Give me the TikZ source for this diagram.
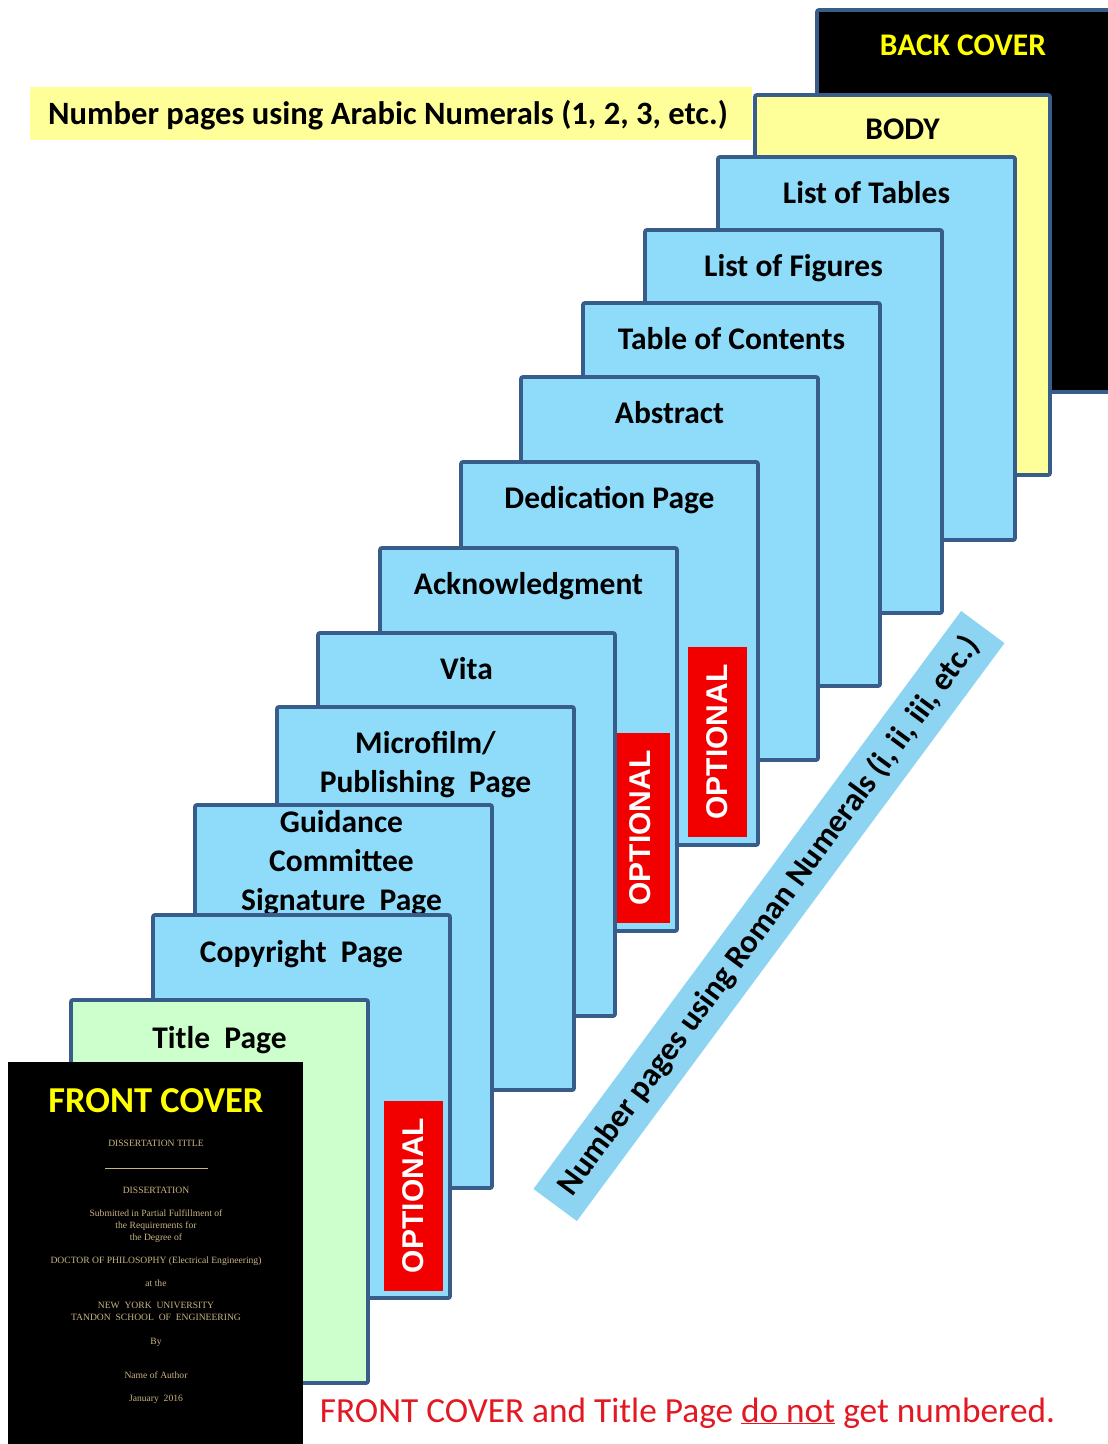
\documentclass[tikz,border=0pt]{standalone}
\usepackage{fontspec}
\setmainfont{Carlito}
\newfontfamily\arialfont{Liberation Sans}
\newfontfamily\timesfont{Liberation Serif}
\usetikzlibrary{calc}
\definecolor{pageblue}{RGB}{143,220,250}
\definecolor{edgeblue}{RGB}{56,93,138}
\definecolor{bodyyellow}{RGB}{255,255,153}
\definecolor{titlegreen}{RGB}{204,255,204}
\definecolor{barblue}{RGB}{141,212,242}
\definecolor{optred}{RGB}{242,0,0}
\definecolor{notered}{RGB}{226,24,34}
\definecolor{covergold}{RGB}{200,180,130}
\definecolor{coveryellow}{RGB}{255,255,0}
\begin{document}
\begin{tikzpicture}[x=1pt,y=-1pt,
  pagebox/.style={draw=edgeblue, line width=3.8pt, rounded corners=2pt, anchor=north west,
    minimum width=297pt, minimum height=383pt, inner sep=0pt, outer sep=0pt},
  bluepage/.style={pagebox, fill=pageblue},
  lbl/.style={font=\bfseries\fontsize{31.5}{39}\selectfont, anchor=base, inner sep=0pt},
  optbox/.style={rotate=90, fill=optred, text=white, minimum width=190pt, minimum height=59pt,
    inner sep=0pt, font=\arialfont\bfseries\fontsize{30}{36}\selectfont},
  covertxt/.style={font=\timesfont\fontsize{9.6}{11}\selectfont, text=covergold, anchor=base, inner sep=0pt}]
\useasboundingbox (0,0) rectangle (1108,1444);
\clip (0,0) rectangle (1108,1444);

% banner
\node[fill=bodyyellow, anchor=north west, minimum width=722pt, minimum height=53pt, inner sep=0pt] (banner) at (30,87) {};
\node[font=\bfseries\fontsize{32.6}{38}\selectfont, anchor=base, inner sep=0pt] (bannertxt) at (388,124) {Number pages using Arabic Numerals (1, 2, 3, etc.)};

% back cover
\node[pagebox, fill=black, minimum width=310pt, minimum height=382pt] (back) at (817,10) {};
\node[lbl, text=coveryellow] (backtxt) at ($(back.north west)+(146,45)$) {BACK COVER};

% body
\node[pagebox, fill=bodyyellow, minimum width=295pt, minimum height=380pt] (body) at (755,95) {};
\node[lbl] (bodytxt) at ($(body.north)+(0,44)$) {BODY};

\node[bluepage] (lot) at (718,157) {};
\node[lbl] (lottxt) at ($(lot.north)+(0,46)$) {List of Tables};

\node[bluepage] (lof) at (645,230) {};
\node[lbl] (loftxt) at ($(lof.north)+(0,46)$) {List of Figures};

\node[bluepage] (toc) at (583,303) {};
\node[lbl] (toctxt) at ($(toc.north)+(0,46)$) {Table of Contents};

\node[bluepage] (abs) at (521,377) {};
\node[lbl] (abstxt) at ($(abs.north)+(0,46)$) {Abstract};

\node[bluepage] (ded) at (461,462) {};
\node[lbl] (dedtxt) at ($(ded.north)+(0,46)$) {Dedication Page};
\node[optbox] (dedopt) at (717,742) {OPTIONAL};

\node[bluepage] (ack) at (380,548) {};
\node[lbl] (acktxt) at ($(ack.north)+(0,46)$) {Acknowledgment};
\node[optbox] (ackopt) at (640.5,828) {OPTIONAL};

\node[bluepage] (vita) at (318,633) {};
\node[lbl] (vitatxt) at ($(vita.north)+(0,46)$) {Vita};

\node[bluepage] (micro) at (277,707) {};
\node[lbl] (microtxta) at ($(micro.north)+(0,46)$) {Microfilm/};
\node[lbl] (microtxtb) at ($(micro.north)+(0,85)$) {Publishing\ \ Page};

\node[bluepage] (guid) at (195,805) {};
\node[lbl] (guidtxta) at ($(guid.north)+(-2,27)$) {Guidance};
\node[lbl] (guidtxtb) at ($(guid.north)+(-2,66)$) {Committee};
\node[lbl] (guidtxtc) at ($(guid.north)+(-2,105)$) {Signature\ \ Page};

\node[bluepage] (copy) at (153,915) {};
\node[lbl] (copytxt) at ($(copy.north)+(0,47)$) {Copyright\ \ Page};
\node[optbox] (copyopt) at (413.5,1195.5) {OPTIONAL};

\node[pagebox, fill=titlegreen] (title) at (71,1000) {};
\node[lbl] (titletxt) at ($(title.north)+(0,48)$) {Title\ \ Page};

% front cover
\node[fill=black, anchor=north west, minimum width=295pt, minimum height=400pt, inner sep=0pt] (front) at (8,1062) {};
\node[font=\bfseries\fontsize{36.5}{40}\selectfont, text=coveryellow, anchor=base, inner sep=0pt] (fronttxt) at (156,1112) {FRONT COVER};
\node[covertxt] (c1) at (156,1146) {DISSERTATION TITLE};
\coordinate (rulea) at (105,1168);
\coordinate (ruleb) at (208,1168);
\draw[covergold, line width=0.8pt] (rulea) -- (ruleb);
\node[covertxt] (c2) at (156,1193) {DISSERTATION};
\node[covertxt] (c3) at (156,1216) {Submitted in Partial Fulfillment of};
\node[covertxt] (c4) at (156,1228) {the Requirements for};
\node[covertxt] (c5) at (156,1240) {the Degree of};
\node[covertxt] (c6) at (156,1263) {DOCTOR OF PHILOSOPHY (Electrical Engineering)};
\node[covertxt] (c7) at (156,1286) {at the};
\node[covertxt] (c8) at (156,1308) {NEW\ \ YORK\ \ UNIVERSITY};
\node[covertxt] (c9) at (156,1320) {TANDON\ \ SCHOOL\ \ OF\ \ ENGINEERING};
\node[covertxt] (c10) at (156,1344) {By};
\node[covertxt] (c11) at (156,1378) {Name of Author};
\node[covertxt] (c12) at (156,1401) {January\ \ 2016};

% diagonal bar
\node[rotate=53.5, fill=barblue, minimum width=719pt, minimum height=54pt, inner sep=0pt,
  font=\bfseries\fontsize{32.5}{38}\selectfont] (roman) at (769,916) {Number pages using Roman Numerals (i, ii, iii, etc.)};

% bottom note
\node[font=\fontsize{35.3}{40}\selectfont, text=notered, anchor=base, inner sep=0pt] (note) at (687.5,1422) {FRONT COVER and Title Page \underline{do not} get numbered.};
\end{tikzpicture}
\end{document}
